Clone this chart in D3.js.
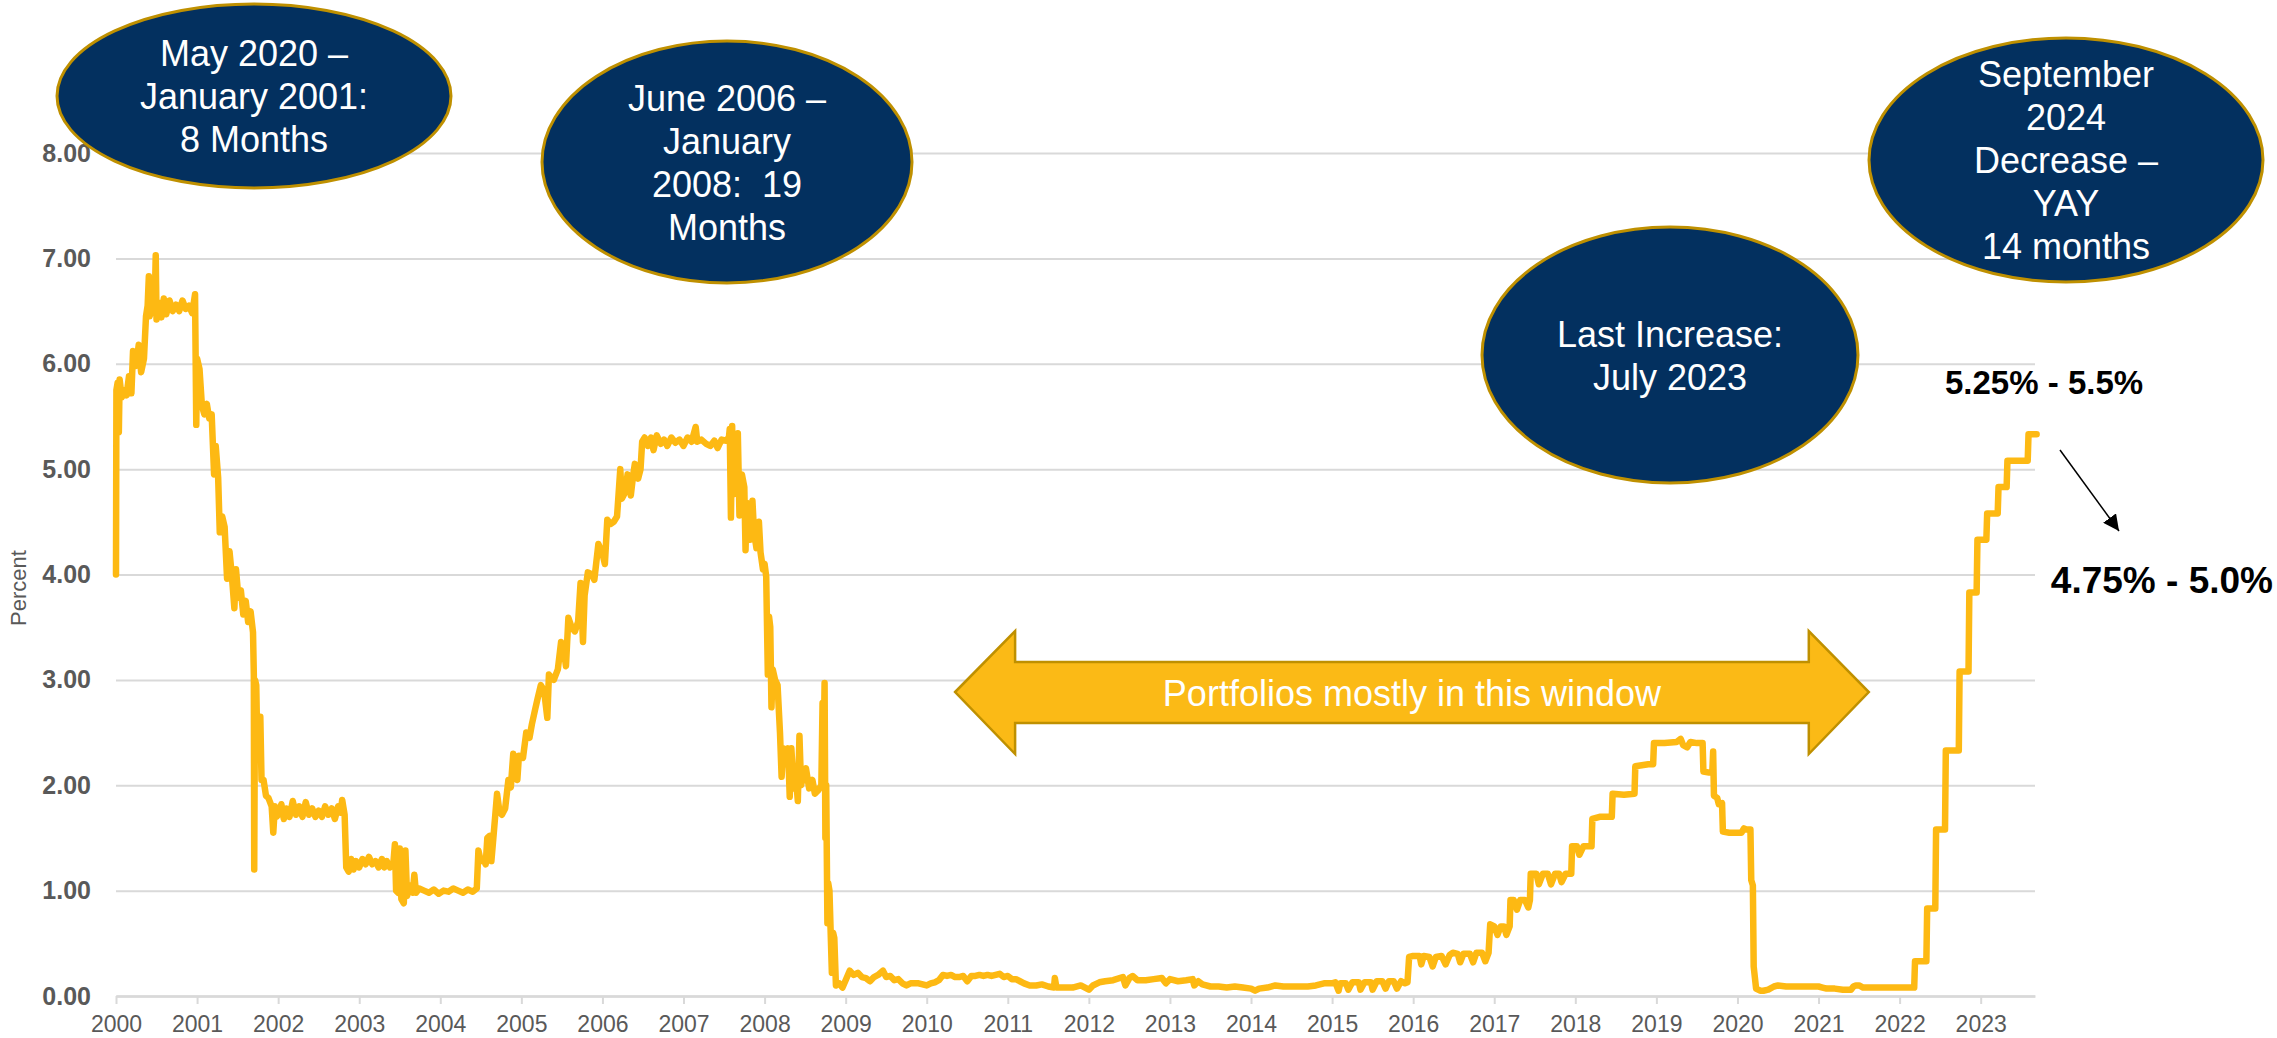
<!DOCTYPE html>
<html>
<head>
<meta charset="utf-8">
<script src="https://cdn.jsdelivr.net/npm/d3@7"></script>
<style>
  html, body { margin: 0; padding: 0; background: #ffffff; }
  svg { display: block; font-family: "Liberation Sans", Arial, sans-serif; }
</style>
</head>
<body>
<script>
// ---------------- DATA ----------------
const yTicks = [0, 1, 2, 3, 4, 5, 6, 7, 8];
const yearTicks = [2000,2001,2002,2003,2004,2005,2006,2007,2008,2009,2010,2011,2012,2013,2014,2015,2016,2017,2018,2019,2020,2021,2022,2023];

// Effective fed funds rate, [decimal year, percent]
const rates2000to2001 = [
 [2000.00,4.00],[2000.005,5.75],[2000.02,5.82],[2000.035,5.35],[2000.045,5.85],[2000.07,5.68],[2000.10,5.75],[2000.13,5.70],
 [2000.16,5.88],[2000.19,5.72],[2000.21,6.12],[2000.25,5.98],[2000.28,6.18],[2000.31,5.92],[2000.345,6.05],[2000.37,6.45],
 [2000.39,6.55],[2000.405,6.83],[2000.415,6.45],[2000.45,6.58],[2000.475,6.48],[2000.49,7.03],[2000.50,6.42],[2000.53,6.58],
 [2000.56,6.44],[2000.59,6.62],[2000.62,6.47],[2000.66,6.60],[2000.70,6.50],[2000.74,6.56],[2000.78,6.50],[2000.82,6.60],
 [2000.86,6.52],[2000.90,6.55],[2000.94,6.48],[2000.975,6.66],[2000.99,5.42],[2001.00,6.05],[2001.03,5.95],[2001.06,5.60],
 [2001.09,5.52],[2001.12,5.62],[2001.15,5.48],[2001.18,5.52],[2001.21,4.95],[2001.23,5.22],[2001.26,4.92],[2001.28,4.40],
 [2001.31,4.55],[2001.34,4.45],[2001.37,3.96],[2001.40,4.22],[2001.43,3.98],[2001.46,3.68],[2001.48,4.05],[2001.51,3.78],
 [2001.54,3.85],[2001.57,3.62],[2001.60,3.75],[2001.63,3.55],[2001.66,3.65],[2001.69,3.45],[2001.70,3.05],[2001.705,1.20],
 [2001.715,3.00],[2001.73,2.95],[2001.745,2.28],[2001.77,2.40],[2001.78,2.65],[2001.795,2.05],[2001.82,2.05],[2001.85,1.90],
 [2001.88,1.88],[2001.92,1.80],[2001.94,1.55],[2001.96,1.80],[2001.98,1.70]
];
const rates2002to2004 = [
 [2002.00,1.72],[2002.04,1.82],[2002.07,1.68],[2002.10,1.78],[2002.14,1.70],[2002.18,1.85],[2002.22,1.72],[2002.26,1.80],
 [2002.30,1.70],[2002.34,1.84],[2002.38,1.72],[2002.42,1.78],[2002.46,1.70],[2002.50,1.76],[2002.54,1.70],[2002.58,1.80],
 [2002.62,1.72],[2002.66,1.78],[2002.70,1.68],[2002.74,1.80],[2002.77,1.74],[2002.79,1.86],[2002.82,1.72],[2002.84,1.22],
 [2002.87,1.18],[2002.90,1.30],[2002.93,1.20],[2002.96,1.28],[2003.00,1.22],[2003.04,1.30],[2003.08,1.25],[2003.12,1.32],
 [2003.16,1.25],[2003.20,1.28],[2003.24,1.22],[2003.28,1.30],[2003.31,1.22],[2003.34,1.28],[2003.38,1.22],[2003.42,1.25],
 [2003.44,1.44],[2003.455,1.00],[2003.48,0.98],[2003.50,1.40],[2003.52,0.92],[2003.55,0.88],[2003.57,1.38],[2003.59,0.95],
 [2003.62,1.05],[2003.66,0.98],[2003.68,1.15],[2003.70,0.98],[2003.74,1.02],[2003.80,1.00],[2003.86,0.98],[2003.92,1.01],
 [2003.98,0.97],[2004.04,1.00],[2004.10,0.99],[2004.16,1.02],[2004.22,1.00],[2004.28,0.98],[2004.34,1.01],[2004.40,0.99],
 [2004.45,1.02],[2004.47,1.38],[2004.50,1.28],[2004.53,1.30],[2004.56,1.25],[2004.58,1.50],[2004.61,1.52],[2004.63,1.28],
 [2004.66,1.55],[2004.70,1.92],[2004.73,1.75],[2004.76,1.72],[2004.80,1.78],[2004.84,2.05],[2004.87,1.98],[2004.90,2.30],
 [2004.92,2.20],[2004.95,2.05],[2004.97,2.28]
];
const rates2005to2008 = [
 [2005.02,2.26],[2005.06,2.50],[2005.10,2.45],[2005.13,2.58],[2005.17,2.72],[2005.20,2.82],[2005.24,2.95],[2005.28,2.90],
 [2005.32,2.64],[2005.34,3.05],[2005.40,3.00],[2005.45,3.10],[2005.49,3.36],[2005.53,3.25],[2005.55,3.13],[2005.58,3.59],
 [2005.62,3.50],[2005.66,3.46],[2005.70,3.55],[2005.73,3.92],[2005.76,3.36],[2005.78,3.80],[2005.82,4.02],[2005.87,4.00],
 [2005.90,3.95],[2005.95,4.29],[2006.00,4.20],[2006.03,4.10],[2006.06,4.52],[2006.10,4.48],[2006.14,4.50],[2006.18,4.55],
 [2006.22,5.00],[2006.24,4.72],[2006.28,4.78],[2006.31,4.95],[2006.35,4.75],[2006.38,4.95],[2006.40,5.05],[2006.44,4.91],
 [2006.47,5.00],[2006.49,5.26],[2006.52,5.30],[2006.56,5.22],[2006.60,5.30],[2006.63,5.18],[2006.67,5.32],[2006.72,5.24],
 [2006.76,5.28],[2006.80,5.22],[2006.85,5.30],[2006.90,5.25],[2006.95,5.28],[2007.00,5.22],[2007.05,5.30],[2007.10,5.26],
 [2007.15,5.40],[2007.17,5.26],[2007.22,5.28],[2007.28,5.24],[2007.33,5.22],[2007.38,5.27],[2007.42,5.20],[2007.47,5.28],
 [2007.52,5.27],[2007.56,5.30],[2007.57,5.38],[2007.585,4.54],[2007.60,5.41],[2007.61,4.76],[2007.64,4.95],[2007.67,5.34],
 [2007.69,4.56],[2007.72,4.95],[2007.75,4.83],[2007.765,4.23],[2007.78,4.68],[2007.80,4.64],[2007.82,4.33],[2007.85,4.70],
 [2007.87,4.40],[2007.90,4.25],[2007.93,4.50],[2007.95,4.21],[2007.98,4.05],[2008.00,4.10],[2008.02,3.98],[2008.04,3.05],
 [2008.055,3.60],[2008.07,3.50],[2008.085,2.74],[2008.10,3.10],[2008.13,3.00],[2008.16,2.95],[2008.19,2.50],[2008.21,2.08],
 [2008.23,2.35],[2008.26,2.20],[2008.29,2.35],[2008.31,1.89],[2008.33,2.35],[2008.36,1.97],[2008.39,2.05],[2008.41,1.85],
 [2008.43,2.47],[2008.45,2.00],[2008.48,2.10],[2008.51,2.16],[2008.55,1.97],[2008.59,2.05],[2008.62,1.92],[2008.66,1.95],
 [2008.70,2.00],[2008.715,2.78],[2008.725,2.05],[2008.74,2.97],[2008.75,1.50],[2008.76,2.00],[2008.775,0.69],[2008.785,1.07],
 [2008.80,1.00],[2008.83,0.22],[2008.845,0.60],[2008.86,0.55],[2008.88,0.10],[2008.92,0.12],[2008.96,0.08]
];
const rates2009to2015 = [
 [2009.00,0.15],[2009.05,0.24],[2009.10,0.20],[2009.15,0.22],[2009.20,0.18],[2009.25,0.17],[2009.30,0.14],[2009.35,0.18],
 [2009.40,0.20],[2009.46,0.24],[2009.50,0.18],[2009.55,0.19],[2009.60,0.15],[2009.65,0.16],[2009.70,0.12],[2009.75,0.10],
 [2009.80,0.12],[2009.85,0.12],[2009.90,0.12],[2009.95,0.11],[2010.00,0.10],[2010.05,0.12],[2010.10,0.13],[2010.15,0.15],
 [2010.20,0.20],[2010.25,0.19],[2010.30,0.20],[2010.35,0.18],[2010.40,0.18],[2010.45,0.19],[2010.50,0.14],[2010.55,0.19],
 [2010.60,0.19],[2010.65,0.20],[2010.70,0.19],[2010.75,0.20],[2010.80,0.19],[2010.85,0.20],[2010.90,0.21],[2010.95,0.18],
 [2011.00,0.19],[2011.05,0.16],[2011.10,0.16],[2011.15,0.14],[2011.20,0.12],[2011.27,0.10],[2011.35,0.10],[2011.42,0.11],
 [2011.50,0.09],[2011.57,0.08],[2011.58,0.17],[2011.60,0.08],[2011.70,0.08],[2011.80,0.08],[2011.90,0.10],[2012.00,0.06],
 [2012.05,0.10],[2012.13,0.13],[2012.20,0.14],[2012.30,0.15],[2012.42,0.18],[2012.45,0.10],[2012.50,0.17],[2012.54,0.19],
 [2012.60,0.15],[2012.70,0.15],[2012.80,0.16],[2012.90,0.17],[2012.95,0.12],[2013.00,0.16],[2013.10,0.14],[2013.20,0.15],
 [2013.28,0.16],[2013.30,0.10],[2013.35,0.14],[2013.40,0.11],[2013.50,0.09],[2013.60,0.09],[2013.70,0.08],[2013.80,0.09],
 [2013.90,0.08],[2014.00,0.07],[2014.05,0.05],[2014.10,0.07],[2014.20,0.08],[2014.30,0.10],[2014.40,0.09],[2014.50,0.09],
 [2014.60,0.09],[2014.70,0.09],[2014.80,0.10],[2014.90,0.12],[2015.00,0.12],[2015.04,0.13],[2015.08,0.05],[2015.10,0.12],
 [2015.17,0.12],[2015.20,0.06],[2015.25,0.13],[2015.33,0.13],[2015.35,0.06],[2015.40,0.13],[2015.48,0.13],[2015.50,0.06],
 [2015.55,0.14],[2015.62,0.14],[2015.66,0.07],[2015.70,0.14],[2015.76,0.14],[2015.80,0.07],[2015.85,0.14],[2015.90,0.12],
 [2015.93,0.13]
];
const rates2016to2019 = [
 [2015.95,0.37],[2016.00,0.38],[2016.08,0.38],[2016.10,0.30],[2016.13,0.38],[2016.20,0.37],[2016.24,0.28],[2016.28,0.37],
 [2016.35,0.38],[2016.40,0.30],[2016.45,0.39],[2016.49,0.41],[2016.55,0.40],[2016.58,0.32],[2016.62,0.40],[2016.70,0.40],
 [2016.74,0.32],[2016.78,0.41],[2016.85,0.41],[2016.89,0.33],[2016.93,0.41],[2016.95,0.68],[2017.00,0.66],[2017.04,0.58],
 [2017.08,0.66],[2017.12,0.66],[2017.15,0.58],[2017.19,0.66],[2017.20,0.91],[2017.24,0.91],[2017.28,0.82],[2017.32,0.91],
 [2017.38,0.91],[2017.42,0.84],[2017.44,0.91],[2017.45,1.16],[2017.52,1.16],[2017.55,1.06],[2017.60,1.16],[2017.66,1.16],
 [2017.70,1.06],[2017.75,1.16],[2017.80,1.16],[2017.83,1.08],[2017.88,1.16],[2017.95,1.16],[2017.96,1.42],[2018.02,1.42],
 [2018.05,1.34],[2018.10,1.42],[2018.20,1.42],[2018.21,1.68],[2018.30,1.70],[2018.45,1.70],[2018.46,1.92],[2018.60,1.91],
 [2018.73,1.92],[2018.74,2.18],[2018.90,2.20],[2018.96,2.20],[2018.97,2.40],[2019.10,2.40],[2019.25,2.41],[2019.30,2.44],
 [2019.33,2.38],[2019.38,2.36],[2019.42,2.41],[2019.50,2.40],[2019.57,2.40],[2019.58,2.13],[2019.65,2.12],[2019.69,2.13],
 [2019.70,2.32],[2019.71,1.90],[2019.75,1.88],[2019.77,1.82],[2019.81,1.83],[2019.82,1.56],[2019.90,1.55],[2019.98,1.55]
];
const rates2020to2023 = [
 [2020.05,1.55],[2020.08,1.59],[2020.11,1.58],[2020.16,1.58],[2020.17,1.10],[2020.19,1.05],[2020.20,0.28],[2020.23,0.07],
 [2020.28,0.05],[2020.32,0.05],[2020.38,0.06],[2020.45,0.09],[2020.50,0.10],[2020.60,0.09],[2020.70,0.09],[2020.80,0.09],
 [2020.90,0.09],[2021.00,0.09],[2021.05,0.08],[2021.10,0.07],[2021.20,0.07],[2021.30,0.06],[2021.40,0.06],[2021.43,0.09],
 [2021.46,0.10],[2021.50,0.10],[2021.55,0.08],[2021.60,0.08],[2021.70,0.08],[2021.80,0.08],[2021.90,0.08],[2022.00,0.08],
 [2022.10,0.08],[2022.18,0.08],[2022.19,0.33],[2022.33,0.33],[2022.34,0.83],[2022.44,0.83],[2022.45,1.58],[2022.56,1.58],
 [2022.57,2.33],[2022.73,2.33],[2022.74,3.08],[2022.85,3.08],[2022.86,3.83],[2022.95,3.83],[2022.96,4.33],[2023.07,4.33],
 [2023.08,4.58],[2023.21,4.58],[2023.22,4.83],[2023.32,4.83],[2023.33,5.08],[2023.58,5.08],[2023.59,5.33],[2023.69,5.33]
];

const yAxisTitle = "Percent";
const bubbleAnnotations = [
  { lines: ["May 2020 \u2013", "January 2001:", "8 Months"] },
  { lines: ["June 2006 \u2013", "January", "2008:  19", "Months"] },
  { lines: ["Last Increase:", "July 2023"] },
  { lines: ["September", "2024", "Decrease \u2013", "YAY", "14 months"] }
];
const windowLabel = "Portfolios mostly in this window";
const windowSpan = [2010.35, 2021.62];
const rateFrom = "5.25% - 5.5%";
const rateTo = "4.75% - 5.0%";

// ---------------- LAYOUT ----------------
const W = 2277, H = 1038;
const plotL = 116, plotR = 2035, plotT = 153, plotB = 996;
const lineColor = "#FDB913";
const navy = "#03305F";
const gold = "#BF9000";
const grey = "#595959";
const gridColor = "#D9D9D9";

const svg = d3.select("body").append("svg").attr("width", W).attr("height", H);

const x = d3.scaleLinear().domain([2000, 2023.67]).range([plotL, plotR]);
const y = d3.scaleLinear().domain([0, 8]).range([plotB, plotT]);

// Y axis with gridlines
const yAxis = svg.append("g").attr("transform", `translate(${plotL},0)`)
  .call(d3.axisLeft(y).tickValues(yTicks).tickFormat(d3.format(".2f"))
        .tickSize(-(plotR - plotL)).tickPadding(25));
yAxis.select(".domain").remove();
yAxis.selectAll(".tick line").attr("stroke", gridColor).attr("stroke-width", 2);
yAxis.selectAll(".tick text").attr("fill", grey).attr("font-size", 25).attr("font-weight", "bold")
  .attr("font-family", '"Liberation Sans", Arial, sans-serif');

// X axis
const xAxis = svg.append("g").attr("transform", `translate(0,${plotB})`)
  .call(d3.axisBottom(x).tickValues(yearTicks).tickFormat(d3.format("d"))
        .tickSize(8).tickSizeOuter(0).tickPadding(12));
xAxis.select(".domain").attr("stroke", gridColor).attr("stroke-width", 2.5);
xAxis.selectAll(".tick line").attr("stroke", gridColor).attr("stroke-width", 2);
xAxis.selectAll(".tick text").attr("fill", grey).attr("font-size", 23)
  .attr("font-family", '"Liberation Sans", Arial, sans-serif');

// Y axis title
svg.append("text").attr("transform", `translate(26,588) rotate(-90)`)
  .attr("text-anchor", "middle").attr("fill", grey).attr("font-size", 22)
  .text(yAxisTitle);

// Rate line
const series = [].concat(rates2000to2001, rates2002to2004, rates2005to2008,
                         rates2009to2015, rates2016to2019, rates2020to2023);
svg.append("path").datum(series)
  .attr("fill", "none").attr("stroke", lineColor).attr("stroke-width", 6.5)
  .attr("stroke-linejoin", "round").attr("stroke-linecap", "round")
  .attr("d", d3.line().x(d => x(d[0])).y(d => y(d[1])));

// Bubbles (ellipse callouts)
const bubbleGeom = [
  { cx: 254, cy: 96, rx: 197, ry: 92 },
  { cx: 727, cy: 162, rx: 185, ry: 121 },
  { cx: 1670, cy: 355, rx: 188, ry: 128 },
  { cx: 2066, cy: 160, rx: 197, ry: 122 }
];
const lineH = 43;
bubbleAnnotations.forEach((b, i) => {
  const g = bubbleGeom[i];
  const grp = svg.append("g");
  grp.append("ellipse").attr("cx", g.cx).attr("cy", g.cy).attr("rx", g.rx).attr("ry", g.ry)
    .attr("fill", navy).attr("stroke", gold).attr("stroke-width", 3);
  const n = b.lines.length;
  const firstBaseline = g.cy - (n - 1) * lineH / 2 + 13;
  b.lines.forEach((t, k) => {
    grp.append("text").attr("x", g.cx).attr("y", firstBaseline + k * lineH)
      .attr("text-anchor", "middle").attr("fill", "#ffffff").attr("font-size", 36)
      .style("white-space", "pre").text(t);
  });
});

// Double-headed arrow
const ax0 = x(windowSpan[0]), ax1 = x(windowSpan[1]); // tips
const head = 60, shaftTop = 662, shaftBot = 723, headTop = 631, headBot = 754, midY = 692;
const arrowPts = [
  [ax0, midY], [ax0 + head, headTop], [ax0 + head, shaftTop], [ax1 - head, shaftTop],
  [ax1 - head, headTop], [ax1, midY], [ax1 - head, headBot], [ax1 - head, shaftBot],
  [ax0 + head, shaftBot], [ax0 + head, headBot]
];
svg.append("polygon").attr("points", arrowPts.map(p => p.join(",")).join(" "))
  .attr("fill", "#FBBA16").attr("stroke", gold).attr("stroke-width", 2.5)
  .attr("stroke-linejoin", "miter");
svg.append("text").attr("x", (ax0 + ax1) / 2).attr("y", 706).attr("text-anchor", "middle")
  .attr("fill", "#ffffff").attr("font-size", 36).text(windowLabel);

// Rate labels and small arrow
svg.append("text").attr("x", 1945).attr("y", 394).attr("font-size", 33).attr("font-weight", "bold")
  .attr("fill", "#000000").text(rateFrom);
svg.append("text").attr("x", 2273).attr("y", 593).attr("text-anchor", "end").attr("font-size", 37)
  .attr("font-weight", "bold").attr("fill", "#000000").text(rateTo);

svg.append("defs").append("marker").attr("id", "ah").attr("viewBox", "0 0 10 10")
  .attr("refX", 10).attr("refY", 5).attr("markerWidth", 16).attr("markerHeight", 16)
  .attr("markerUnits", "userSpaceOnUse").attr("orient", "auto")
  .append("path").attr("d", "M0,0 L10,5 L0,10 z").attr("fill", "#000");
svg.append("line").attr("x1", 2060).attr("y1", 450).attr("x2", 2119).attr("y2", 531)
  .attr("stroke", "#000").attr("stroke-width", 1.5).attr("marker-end", "url(#ah)");
</script>
</body>
</html>
